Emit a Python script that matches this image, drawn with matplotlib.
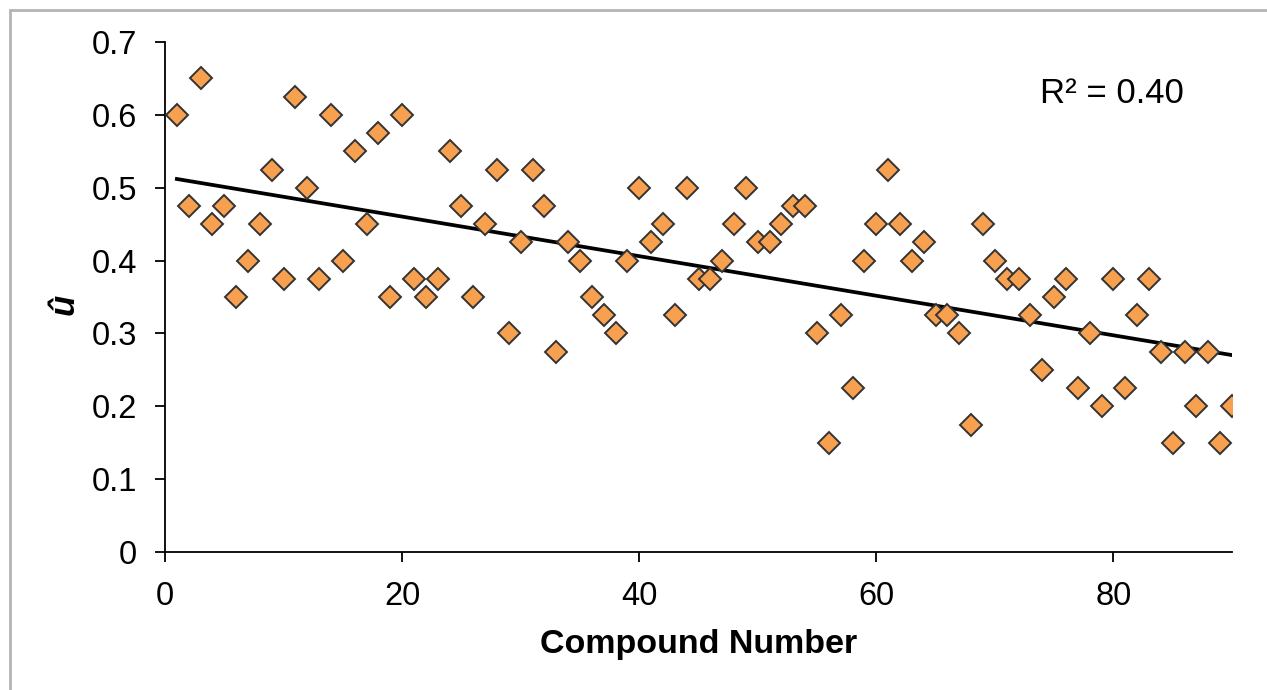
import numpy as np
import matplotlib
matplotlib.use('Agg')
import matplotlib.pyplot as plt
from matplotlib.patches import Rectangle

plt.rcParams['font.family'] = ['Liberation Sans', 'DejaVu Sans']

# Data
compound = np.arange(1, 91)
u_hat = [0.600, 0.475, 0.650, 0.450, 0.475, 0.350, 0.400, 0.450, 0.525, 0.375,
         0.625, 0.500, 0.375, 0.600, 0.400, 0.550, 0.450, 0.575, 0.350, 0.600,
         0.375, 0.350, 0.375, 0.550, 0.475, 0.350, 0.450, 0.525, 0.300, 0.425,
         0.525, 0.475, 0.275, 0.425, 0.400, 0.350, 0.325, 0.300, 0.400, 0.500,
         0.425, 0.450, 0.325, 0.500, 0.375, 0.375, 0.400, 0.450, 0.500, 0.425,
         0.425, 0.450, 0.475, 0.475, 0.300, 0.150, 0.325, 0.225, 0.400, 0.450,
         0.525, 0.450, 0.400, 0.425, 0.325, 0.325, 0.300, 0.175, 0.450, 0.400,
         0.375, 0.375, 0.325, 0.250, 0.350, 0.375, 0.225, 0.300, 0.200, 0.375,
         0.225, 0.325, 0.375, 0.275, 0.150, 0.275, 0.200, 0.275, 0.150, 0.200]
u_hat = np.array(u_hat)
x_ticks = [0, 20, 40, 60, 80]
y_ticks = [0, 0.1, 0.2, 0.3, 0.4, 0.5, 0.6, 0.7]
y_tick_labels = ['0', '0.1', '0.2', '0.3', '0.4', '0.5', '0.6', '0.7']
r2_text = 'R² = 0.40'

# linear trend line
slope, intercept = np.polyfit(compound, u_hat, 1)
x_fit = np.array([compound.min(), compound.max()])
y_fit = slope * x_fit + intercept

fig = plt.figure(figsize=(12.67, 6.90), dpi=100)
ax = fig.add_axes([165/1267, 1 - 552/690, (1232 - 165)/1267, (552 - 42)/690])

# chart area border (light grey, like the spreadsheet frame)
fig.patches.append(Rectangle((10/1267, -0.1), 1.2, 1 - 10/690 + 0.1,
                             transform=fig.transFigure, fill=False,
                             edgecolor='#b3b3b3', linewidth=2))

ax.plot(compound, u_hat, linestyle='none', marker='D', markersize=11.5,
        markerfacecolor='#f7a150', markeredgecolor='#333333', markeredgewidth=1.4,
        zorder=3)
ax.plot(x_fit, y_fit, color='black', linewidth=2.7, zorder=2)

ax.set_xlim(0, 90)
ax.set_ylim(0, 0.7)
ax.set_xticks(x_ticks)
ax.set_yticks(y_ticks)
ax.set_yticklabels(y_tick_labels)

for side in ['top', 'right']:
    ax.spines[side].set_visible(False)
for side in ['left', 'bottom']:
    ax.spines[side].set_linewidth(1.3)

ax.tick_params(axis='y', direction='out', length=7, width=1.3, pad=13, labelsize=23.5)
ax.tick_params(axis='x', direction='out', length=7, width=1.3, pad=14, labelsize=23.5)

ax.set_xlabel('Compound Number', fontsize=24.5, fontweight='bold', labelpad=12)
ax.set_ylabel('û', fontsize=25, fontweight='bold', fontstyle='italic')
ax.yaxis.set_label_coords(-84/1067, 0.485)

ax.text(0.82, 0.9, r2_text, transform=ax.transAxes, fontsize=25, ha='left', va='center')

fig.savefig('out.png', dpi=100)
